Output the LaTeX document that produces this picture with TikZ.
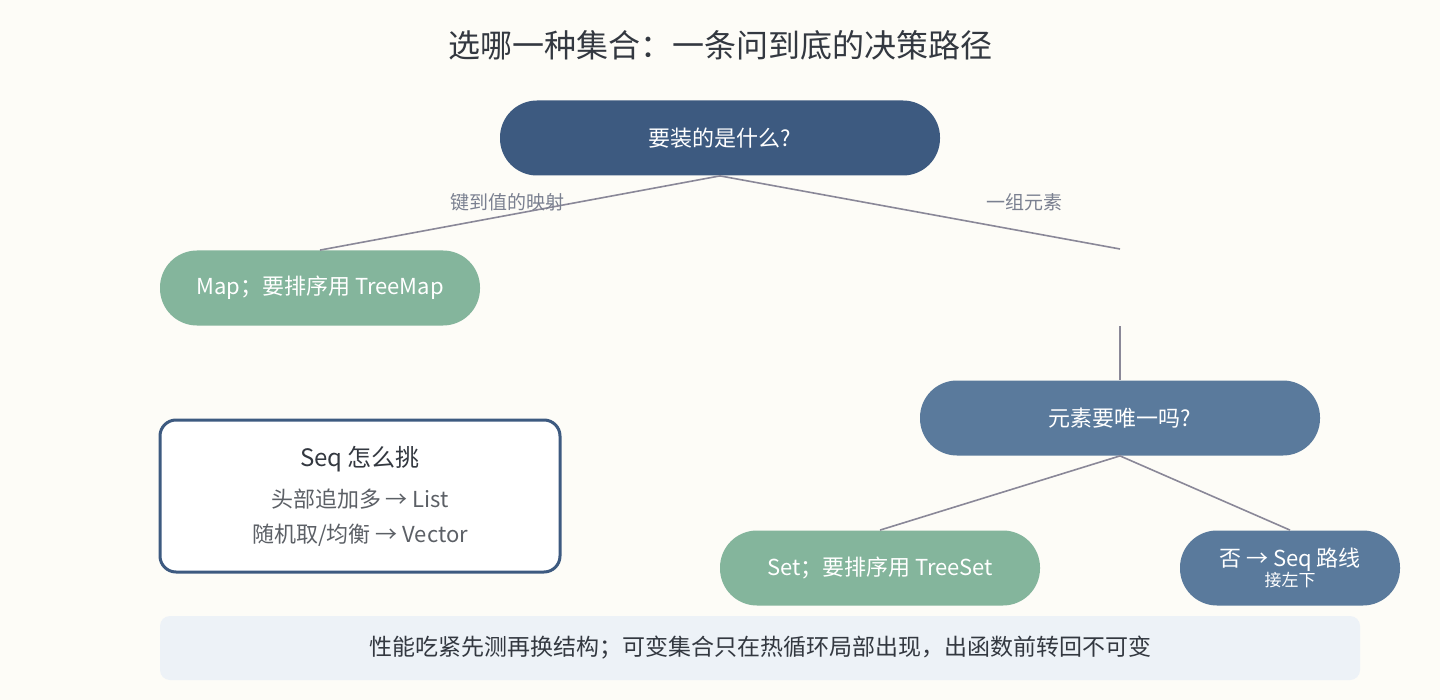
\documentclass[tikz,border=0pt]{standalone}
\usepackage{fontspec}
\setmainfont{Noto Sans CJK SC}
\usetikzlibrary{positioning}
\definecolor{bgc}{HTML}{FDFCF7}
\definecolor{navy}{HTML}{3D5A80}
\definecolor{slate}{HTML}{5A7A9C}
\definecolor{sage}{HTML}{84B59C}
\definecolor{linec}{HTML}{8A8898}
\definecolor{labc}{HTML}{7A8090}
\definecolor{inkc}{HTML}{333840}
\definecolor{notec}{HTML}{EDF2F7}
\tikzset{
  pill/.style={rounded corners=18.5pt, minimum height=37.5pt, text=white, font=\fontsize{11}{13}\selectfont, inner sep=0pt},
  edge/.style={draw=linec, line width=0.8pt},
  elabel/.style={text=labc, font=\fontsize{9.5}{11}\selectfont}
}
\begin{document}
\begin{tikzpicture}[x=0.5pt, y=-0.5pt]
  \fill[bgc] (0,0) rectangle (1440,700);
  \useasboundingbox (0,0) rectangle (1440,700);

  % Title
  \node[text=inkc, font=\fontsize{16}{19}\selectfont] (title) at (720,45) {选哪一种集合：一条问到底的决策路径};

  % Decision nodes
  \node[pill, fill=navy, minimum width=220pt] (what) at (720,138) {要装的是什么?};
  \node[pill, fill=sage, minimum width=160pt] (map) at (320,288) {Map；要排序用 TreeMap};
  \coordinate (grpend) at (1120,249);
  \coordinate (grpstart) at (1120,326);
  \node[pill, fill=slate, minimum width=200pt] (uniq) at (1120,418) {元素要唯一吗?};
  \node[pill, fill=sage, minimum width=160pt] (set) at (880,568) {Set；要排序用 TreeSet};
  \node[pill, fill=slate, minimum width=110pt, align=center] (noseq) at (1290,568)
    {否 → Seq 路线\\[-3pt]{\fontsize{8.5}{10}\selectfont 接左下}};

  % Connectors
  \draw[edge] (what.south) -- (map.north);
  \draw[edge] (what.south) -- (grpend);
  \draw[edge] (grpstart) -- (uniq.north);
  \draw[edge] (uniq.south) -- (set.north);
  \draw[edge] (uniq.south) -- (noseq.north);
  \node[elabel] (lblmap) at (507,202) {键到值的映射};
  \node[elabel] (lblgrp) at (1024,202) {一组元素};

  % Seq box
  \node[draw=navy, line width=1.5pt, fill=white, rounded corners=8pt,
        minimum width=200pt, minimum height=76pt] (seqbox) at (360,496) {};
  \node[text=inkc, font=\fontsize{12}{14}\selectfont] (seqtitle) at (360,459) {Seq 怎么挑};
  \node[text=inkc!80, font=\fontsize{11}{13}\selectfont] (seqa) at (360,499) {头部追加多 → List};
  \node[text=inkc!80, font=\fontsize{11}{13}\selectfont] (seqb) at (360,535) {随机取/均衡 → Vector};

  % Footer note
  \node[fill=notec, rounded corners=5pt, minimum width=600pt, minimum height=32pt,
        text=inkc, font=\fontsize{11.5}{13}\selectfont] (note) at (760,648)
    {性能吃紧先测再换结构；可变集合只在热循环局部出现，出函数前转回不可变};
\end{tikzpicture}
\end{document}
